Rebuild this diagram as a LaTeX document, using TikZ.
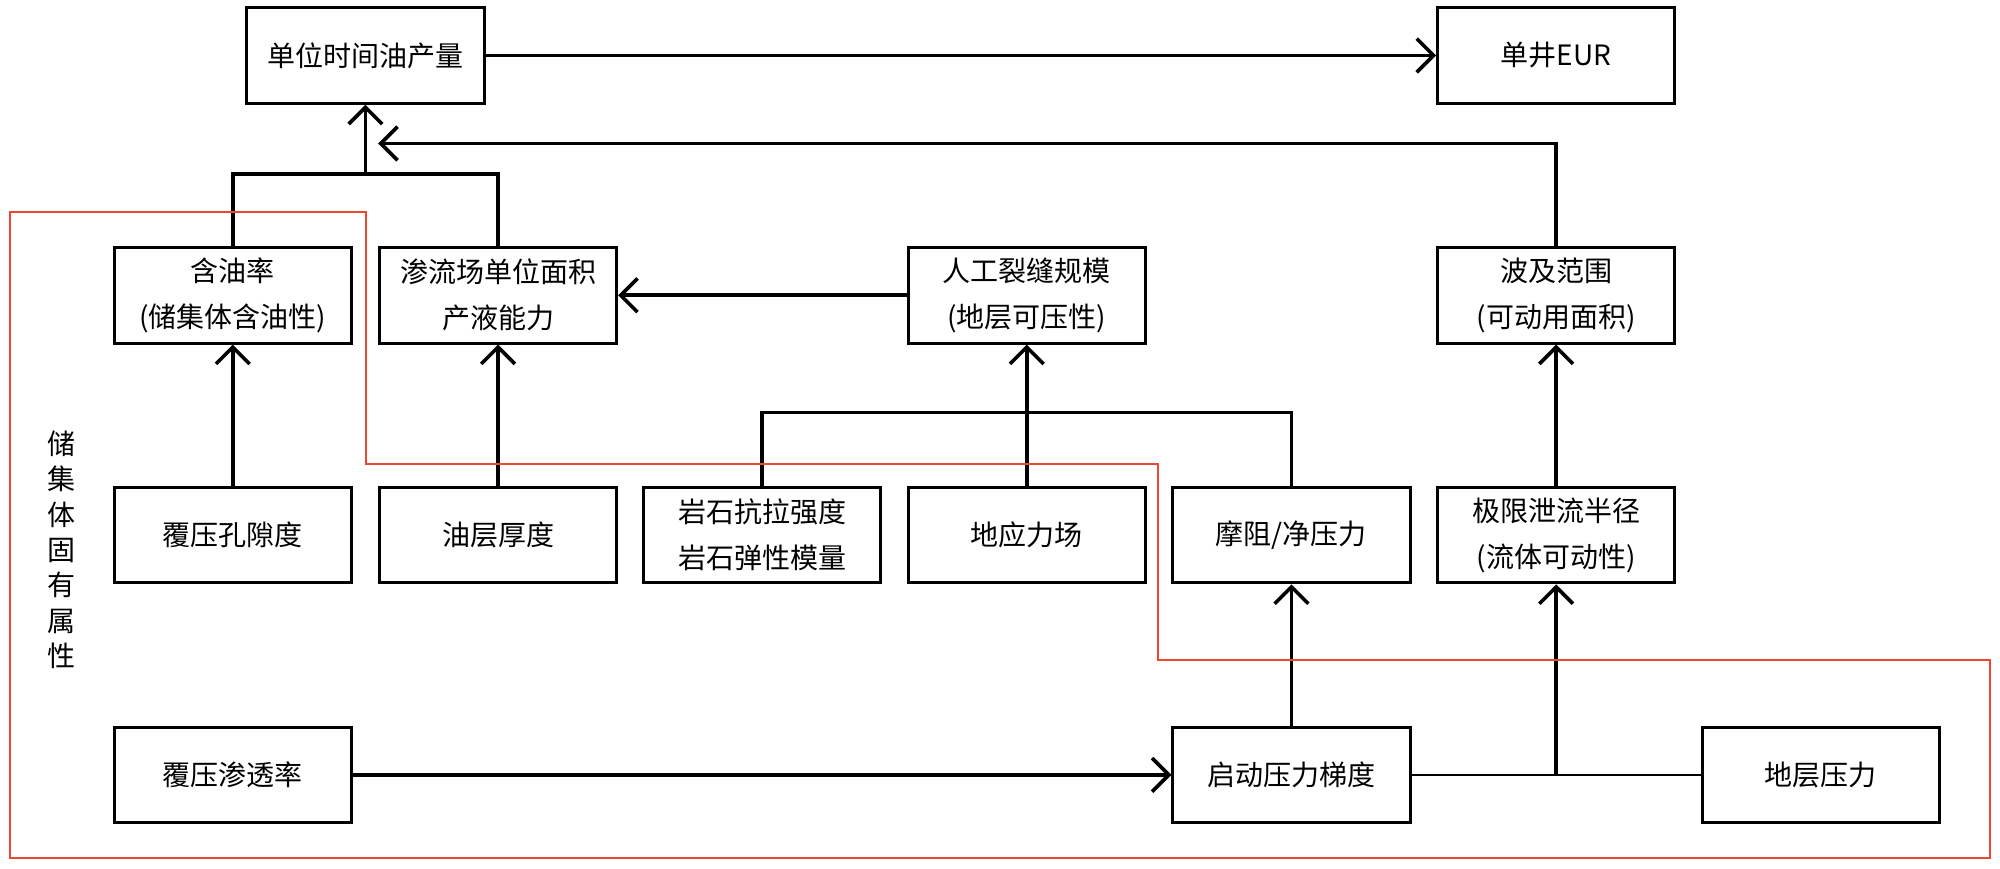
\documentclass[tikz,border=0pt]{standalone}
\usepackage{fontspec}
\newfontfamily\cjk{Noto Sans CJK SC}
\usetikzlibrary{arrows.meta}
\definecolor{frame}{RGB}{236,72,48}

\begin{document}
\begin{tikzpicture}[
        box/.style={draw, line width=1.3pt, minimum width=3.72cm, minimum height=1.5cm,
            align=center, inner sep=0pt, font=\cjk\fontsize{12.5}{20.5}\selectfont},
        flow/.style={line width=1.6pt, -{Straight Barb[length=7.5pt,width=15pt]}},
        wire/.style={line width=1.6pt}
    ]
        \useasboundingbox (0,0) rectangle (31.36,13.61);

        \node[box] (yield) at (5.73,12.74) {单位时间油产量};
        \node[box] (eur) at (24.4,12.74) {单井EUR};

        \node[box] (oil) at (3.65,8.98) {含油率\\(储集体含油性)};
        \node[box] (cap) at (7.81,8.98) {渗流场单位面积\\产液能力};
        \node[box] (frac) at (16.1,8.98) {人工裂缝规模\\(地层可压性)};
        \node[box] (sweep) at (24.4,8.98) {波及范围\\(可动用面积)};

        \node[box] (poro) at (3.65,5.22) {覆压孔隙度};
        \node[box] (thick) at (7.81,5.22) {油层厚度};
        \node[box] (rock) at (11.95,5.22) {岩石抗拉强度\\岩石弹性模量};
        \node[box] (stress) at (16.1,5.22) {地应力场};
        \node[box] (fric) at (20.25,5.22) {摩阻/净压力};
        \node[box] (drain) at (24.4,5.22) {极限泄流半径\\(流体可动性)};

        \node[box] (perm) at (3.65,1.46) {覆压渗透率};
        \node[box] (grad) at (20.25,1.46) {启动压力梯度};
        \node[box] (press) at (28.55,1.46) {地层压力};

        \node[font=\cjk\fontsize{12.5}{15.8}\selectfont, align=center] (side) at (0.96,4.99) {储\\集\\体\\固\\有\\属\\性};

        % top level
        \draw [flow] (yield.east) -- (eur.west);
        \coordinate (top) at (5.73,10.88);
        \draw [wire] (oil.north) |- (top) -| (cap.north);
        \draw [flow] (top) -- (yield.south);
        \coordinate (back) at (5.93,11.36);
        \draw [flow] (sweep.north) |- (back);
        \draw [flow] (frac.west) -- (cap.east);

        % middle level
        \draw [flow] (poro.north) -- (oil.south);
        \draw [flow] (thick.north) -- (cap.south);
        \coordinate (mid) at (16.1,7.14);
        \draw [wire] (rock.north) |- (mid) -| (fric.north);
        \draw [flow] (stress.north) -- (frac.south);
        \draw [flow] (drain.north) -- (sweep.south);

        % bottom level
        \draw [flow] (perm.east) -- (grad.west);
        \draw [flow] (grad.north) -- (fric.south);
        \draw [line width=0.8pt] (grad.east) -- (press.west);
        \draw [flow] (grad.east -| drain.south) -- (drain.south);

        \draw [frame, line width=0.8pt] (0.16,10.28) -| (5.74,6.34) -| (18.16,3.26) -| (31.2,0.16) -- (0.16,0.16) -- cycle;
    \end{tikzpicture}
\end{document}
